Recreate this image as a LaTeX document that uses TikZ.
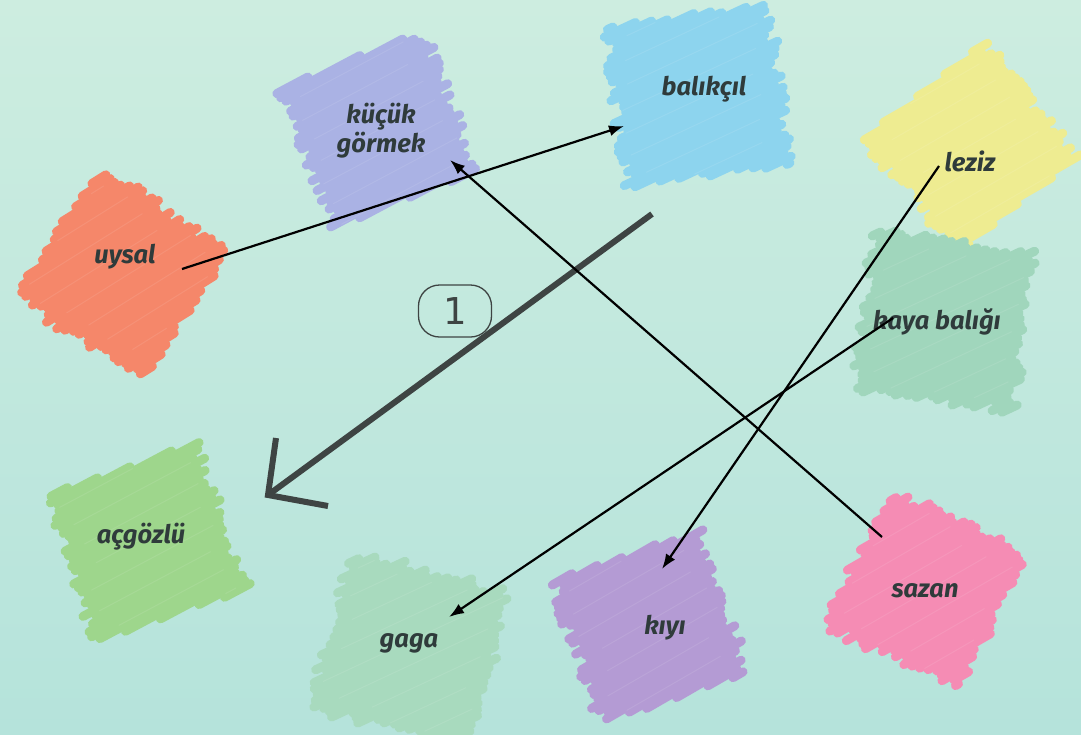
\documentclass[tikz,border=0pt]{standalone}
\usepackage{fontspec}
\setmainfont{Fira Sans}
\newfontfamily\numfont{DejaVu Sans}
\usetikzlibrary{arrows.meta}
\definecolor{bgtop}{HTML}{CDEDE0}
\definecolor{bgbot}{HTML}{B5E3DB}
\definecolor{txt}{HTML}{2F3B3B}
\definecolor{cUysal}{HTML}{F5876A}
\definecolor{cKucuk}{HTML}{AAB2E4}
\definecolor{cBalik}{HTML}{8DD4EE}
\definecolor{cLeziz}{HTML}{EEEC91}
\definecolor{cKaya}{HTML}{A0D6BC}
\definecolor{cAcgoz}{HTML}{9ED68C}
\definecolor{cGaga}{HTML}{A8DABE}
\definecolor{cKiyi}{HTML}{B49BD4}
\definecolor{cSazan}{HTML}{F58CB4}
\definecolor{bigarrowcol}{HTML}{3E4443}
% #1 cx, #2 cy, #3 half side, #4 stroke angle, #5 square angle rel. strokes, #6 colour, #7 seed
\newcommand\scribble[7]{%
  \begin{scope}[shift={(#1,#2)},rotate=#4]
    \pgfmathsetseed{#7}
    \pgfmathsetmacro\myc{cos(#5)}
    \pgfmathsetmacro\mys{sin(#5)}
    \pgfmathsetmacro\ym{#3*(\myc+\mys)}
    \pgfmathtruncatemacro\nn{2*\ym/5.5}
    \foreach \i in {0,...,\nn}{
      \pgfmathsetmacro\yy{-\ym+\i*5.5+2.75}
      \pgfmathsetmacro\xa{max((-#3-\yy*\mys)/\myc,(\yy*\myc-#3)/\mys)+rand*8}
      \pgfmathsetmacro\xb{min((#3-\yy*\mys)/\myc,(\yy*\myc+#3)/\mys)+rand*8}
      \pgfmathtruncatemacro\ok{\xb>\xa+3}
      \ifnum\ok=1 \draw[scrib,draw=#6] (\xa,\yy) -- (\xb,\yy);\fi
    }
    \foreach \i in {2,6,...,\nn}{
      \pgfmathsetmacro\yy{-\ym+\i*5.5+5.5}
      \pgfmathsetmacro\xa{max((-#3-\yy*\mys)/\myc,(\yy*\myc-#3)/\mys)+14+rand*10}
      \pgfmathsetmacro\xb{min((#3-\yy*\mys)/\myc,(\yy*\myc+#3)/\mys)-14+rand*10}
      \pgfmathtruncatemacro\ok{\xb>\xa+10}
      \ifnum\ok=1 \draw[streak,draw=#6!70!white] (\xa,\yy) -- (\xb,\yy);\fi
    }
  \end{scope}}
\tikzset{
  scrib/.style={line width=9pt,line cap=round},
  streak/.style={line width=1pt,line cap=round,opacity=0.3},
  lbl/.style={font=\bfseries\itshape\fontsize{25.5}{29}\selectfont,text=txt,align=center,inner sep=0pt},
  conn/.style={line width=2.2pt,draw=black,-{Latex[length=15pt,width=11pt]}},
  bigline/.style={line width=6pt,draw=bigarrowcol,line join=miter},
  numbox/.style={draw=bigarrowcol,line width=1.3pt,rounded corners=21pt,minimum width=73pt,
    minimum height=52pt,inner sep=0pt,font=\numfont\fontsize{37}{37}\selectfont,text=bigarrowcol}
}
\begin{document}
\begin{tikzpicture}[x=1pt,y=-1pt]
\useasboundingbox (0,0) rectangle (1081,734);
\fill[top color=bgtop,bottom color=bgbot] (0,0) rectangle (1081,734);
% patches
\scribble{121}{274}{76}{32}{66}{cUysal}{11}
\scribble{378}{130}{75}{28}{6}{cKucuk}{12}
\scribble{697}{95}{80}{25}{17}{cBalik}{13}
\scribble{970}{148}{74}{30}{81}{cLeziz}{14}
\scribble{944}{320}{79}{25}{33}{cKaya}{15}
\scribble{147}{542}{77}{28}{9}{cAcgoz}{16}
\scribble{410}{650}{80}{25}{40}{cGaga}{17}
\scribble{650}{627}{75}{30}{11}{cKiyi}{18}
\scribble{925}{590}{74}{30}{56}{cSazan}{19}
% labels
\node[lbl] (uysal) at (125,257) {uysal};
\node[lbl] (kucuk) at (381,131) {küçük\\görmek};
\node[lbl] (balik) at (704,89) {balıkçıl};
\node[lbl] (leziz) at (970,161) {leziz};
\node[lbl] (kaya) at (937,322) {kaya balığı};
\node[lbl] (acgoz) at (141,537) {açgözlü};
\node[lbl] (gaga) at (409,643) {gaga};
\node[lbl] (kiyi) at (665,628) {kıyı};
\node[lbl] (sazan) at (925,591) {sazan};
% big arrow with number
\node[numbox] (one) at (455,311) {1};
\coordinate (bigS) at (652,214);
\coordinate (bigT) at (268,495);
\coordinate (bigA) at (276,438);
\coordinate (bigB) at (328,506);
\draw[bigline] (bigS) -- (bigT);
\draw[bigline] (bigA) -- (bigT) -- (bigB);
% connectors
\coordinate (uysalOut) at (182,269);
\coordinate (balikIn) at (624,126);
\coordinate (sazanOut) at (882,537);
\coordinate (kucukIn) at (450,160);
\coordinate (lezizOut) at (939,166);
\coordinate (kiyiIn) at (662,569);
\coordinate (kayaOut) at (893,318);
\coordinate (gagaIn) at (449,617);
\draw[conn] (uysalOut) -- (balikIn);
\draw[conn] (sazanOut) -- (kucukIn);
\draw[conn] (lezizOut) -- (kiyiIn);
\draw[conn] (kayaOut) -- (gagaIn);
\end{tikzpicture}
\end{document}
